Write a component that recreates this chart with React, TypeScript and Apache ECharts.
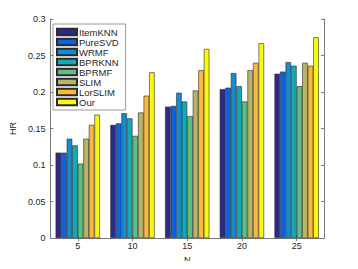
import React, { useEffect, useRef } from "react";
import * as echarts from "echarts";

const categories = ["5", "10", "15", "20", "25"];
const seriesNames = ["ItemKNN", "PureSVD", "WRMF", "BPRKNN", "BPRMF", "SLIM", "LorSLIM", "Our"];
const itemKNN = [0.117, 0.155, 0.180, 0.204, 0.225];
const pureSVD = [0.117, 0.157, 0.181, 0.206, 0.228];
const wrmf = [0.136, 0.171, 0.199, 0.226, 0.241];
const bprKNN = [0.127, 0.164, 0.187, 0.208, 0.236];
const bprMF = [0.102, 0.140, 0.167, 0.187, 0.208];
const slim = [0.136, 0.172, 0.202, 0.230, 0.240];
const lorSLIM = [0.155, 0.195, 0.230, 0.240, 0.236];
const our = [0.169, 0.227, 0.259, 0.267, 0.275];
const yTicks = [0, 0.05, 0.1, 0.15, 0.2, 0.25, 0.3];
const colors = ["#2f2a87", "#0d63df", "#168bd2", "#12aab5", "#5dbf82", "#b8b565", "#fcb83b", "#f9f90e"];

const allData = [itemKNN, pureSVD, wrmf, bprKNN, bprMF, slim, lorSLIM, our];

export default function App() {
  const ref = useRef<HTMLDivElement>(null);
  useEffect(() => {
    if (!ref.current) return;
    const chart = echarts.init(ref.current, null, { renderer: "svg" });
    const font = "Liberation Sans, Arial, sans-serif";
    const axisColor = "#7a7a7a";
    chart.setOption({
      animation: false,
      backgroundColor: "#fff",
      textStyle: { fontFamily: font },
      grid: { left: 47, top: 19, width: 277, height: 220, containLabel: false },
      legend: {
        orient: "vertical",
        left: 53,
        top: 24,
        padding: [3, 7, 3, 3],
        itemWidth: 20,
        itemHeight: 6.5,
        itemGap: 0,
        backgroundColor: "#fff",
        borderColor: "#555",
        borderWidth: 0.6,
        borderRadius: 0,
        textStyle: { fontSize: 9.5, color: "#262626", padding: [0, 0, 0, -3], lineHeight: 9 },
        data: seriesNames.map((n) => ({ name: n, icon: "rect" })),
      },
      xAxis: [
        {
          type: "category",
          data: categories,
          name: "N",
          nameLocation: "middle",
          nameGap: 11,
          nameTextStyle: { fontSize: 9, color: "#262626" },
          axisLine: { lineStyle: { color: axisColor, width: 1 } },
          axisTick: { show: true, inside: true, alignWithLabel: true, length: 3, lineStyle: { color: axisColor } },
          axisLabel: { fontSize: 9, color: "#262626", margin: 3 },
        },
        {
          type: "category",
          data: categories,
          position: "top",
          axisLine: { lineStyle: { color: axisColor, width: 1 } },
          axisTick: { show: true, inside: true, alignWithLabel: true, length: 3, lineStyle: { color: axisColor } },
          axisLabel: { show: false },
        },
      ],
      yAxis: [
        {
          type: "value",
          min: 0,
          max: 0.3,
          interval: 0.05,
          name: "HR",
          nameLocation: "middle",
          nameGap: 28,
          nameTextStyle: { fontSize: 9, color: "#262626" },
          axisLine: { show: true, lineStyle: { color: axisColor, width: 1 } },
          axisTick: { show: true, inside: true, length: 3, lineStyle: { color: axisColor } },
          axisLabel: {
            fontSize: 9,
            color: "#262626",
            margin: 5,
            formatter: (v: number) => {
              const f = yTicks.find((t) => Math.abs(t - v) < 1e-9);
              return f === undefined ? "" : String(Number(f.toFixed(2)));
            },
          },
          splitLine: { show: false },
        },
        {
          type: "value",
          min: 0,
          max: 0.3,
          interval: 0.05,
          position: "right",
          axisLine: { show: true, lineStyle: { color: axisColor, width: 1 } },
          axisTick: { show: true, inside: true, length: 3, lineStyle: { color: axisColor } },
          axisLabel: { show: false },
          splitLine: { show: false },
        },
      ],
      series: seriesNames.map((name, i) => ({
        name,
        type: "bar",
        xAxisIndex: 0,
        yAxisIndex: 0,
        data: allData[i],
        barGap: "0%",
        barCategoryGap: "19%",
        itemStyle: { color: colors[i], borderColor: "#2a2a2a", borderWidth: 0.6 },
      })),
    });
    return () => chart.dispose();
  }, []);
  return <div ref={ref} style={{ width: 358, height: 269, margin: -8 }} />;
}
